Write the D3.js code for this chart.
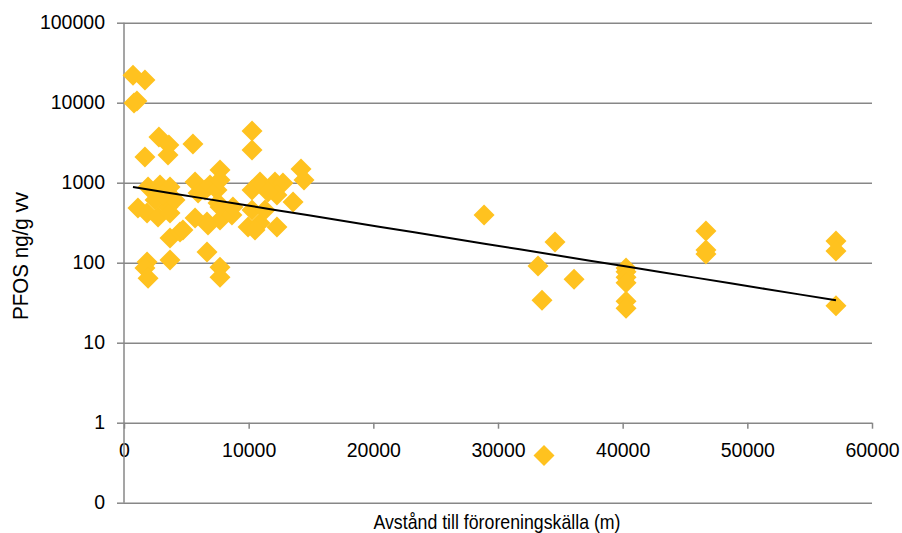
<!DOCTYPE html>
<html>
<head>
<meta charset="utf-8">
<script src="https://cdn.jsdelivr.net/npm/d3@7"></script>
<style>
  html, body { margin: 0; padding: 0; background: #fff; }
  svg { display: block; font-family: "Liberation Sans", Arial, sans-serif; }
</style>
</head>
<body>
<svg id="chart" width="902" height="533"></svg>
<script>
// Distance to the pollution source (m) for each sample
const distance = [
  720, 1680, 800, 1040, 2800, 3600, 3530, 1680, 5530, 10270,
  10270, 14200, 14440, 1930, 2890, 3690, 1120, 1850, 2730, 3530,
  3690, 4090, 5700, 5940, 6500, 6900, 7460, 7700, 7700, 5700,
  6660, 7700, 7540, 7700, 8660, 8740, 6740, 3690, 4490, 1850,
  1680, 1930, 3690, 6660, 7700, 7700, 10270, 10910, 12110, 12750,
  12270, 13560, 9950, 10910, 12270, 10270, 11310, 10510, 2490, 3130,
  4730, 11550,
  28880, 33210, 33530, 34570, 36100,
  40270, 40270, 40270, 40270, 40270, 40270,
  46680, 46680, 46680,
  57110, 57110, 57110,
  33690
];

// PFOS concentration (ng/g wet weight) for each sample
const pfos = [
  22000, 19200, 9900, 10500, 3730, 2960, 2220, 2100, 3050, 4430,
  2560, 1480, 1080, 884, 936, 884, 483, 418, 373, 497,
  418, 608, 1020, 743, 811, 936, 811, 1440, 1080, 362,
  323, 342, 557, 497, 395, 497, 296, 204, 242, 102,
  86, 64, 108, 136, 88, 66, 811, 1020, 1020, 991,
  702, 574, 279, 314, 279, 456, 456, 256, 608, 702,
  256, 765,
  395, 91, 34, 181, 62,
  86, 77, 66, 56, 33, 27,
  249, 144, 128,
  187, 140, 29,
  0.39
];

// Exponential trendline y = a * e^(b x)
const trendA = 920;
const trendB = -5.78e-5;

// Axis ticks and labels
const xTicks = [0, 10000, 20000, 30000, 40000, 50000, 60000];
const yTicks = [0.1, 1, 10, 100, 1000, 10000, 100000];
const yTickLabels = ["0", "1", "10", "100", "1000", "10000", "100000"];

const xTitle = "Avstånd till föroreningskälla (m)";
const yTitle = "PFOS ng/g vv";

const svg = d3.select("#chart");
const plotLeft = 124, plotRight = 872, plotTop = 22.7, plotBottom = 502.7;

const x = d3.scaleLinear().domain([0, 60000]).range([plotLeft, plotRight]);
const y = d3.scaleLog().domain([0.1, 100000]).range([plotBottom, plotTop]);

const gridColor = "#878787";
const tickFont = 19.5;

// Horizontal gridlines at each decade
svg.append("g")
  .attr("transform", `translate(${plotLeft},0)`)
  .call(d3.axisLeft(y).tickValues(yTicks).tickSize(-(plotRight - plotLeft)).tickFormat(""))
  .call(g => g.select(".domain").remove())
  .call(g => g.selectAll("line").attr("stroke", gridColor).attr("stroke-width", 1.5));

// Distance axis crossing the value axis at 1
const xAxis = svg.append("g")
  .attr("transform", `translate(0,${y(1)})`)
  .call(d3.axisBottom(x).tickValues(xTicks).tickSize(6).tickPadding(14).tickFormat(d3.format("d")));
xAxis.select(".domain").remove();
xAxis.selectAll(".tick line").attr("stroke", gridColor).attr("stroke-width", 1.5);
xAxis.selectAll("text").attr("font-size", tickFont).attr("fill", "#000")
  .attr("font-family", "Liberation Sans, Arial, sans-serif");

// Value axis with decade labels
const yAxis = svg.append("g")
  .attr("transform", `translate(${plotLeft},0)`)
  .call(d3.axisLeft(y).tickValues(yTicks).tickSize(7).tickPadding(12)
    .tickFormat((d, i) => yTickLabels[i]));
yAxis.select(".domain").attr("stroke", gridColor).attr("stroke-width", 1.5)
  .attr("d", `M0,${plotTop}V${plotBottom}`);
yAxis.selectAll(".tick line").attr("stroke", gridColor).attr("stroke-width", 1.5);
yAxis.selectAll("text").attr("font-size", tickFont).attr("fill", "#000")
  .attr("font-family", "Liberation Sans, Arial, sans-serif");

// Data points as diamonds
const points = distance.map((d, i) => ({ x: d, y: pfos[i] }));
svg.append("g")
  .selectAll("path")
  .data(points)
  .join("path")
  .attr("transform", d => `translate(${x(d.x)},${y(d.y)})`)
  .attr("d", "M0,-10.5L10.5,0L0,10.5L-10.5,0Z")
  .attr("fill", "#ffc21f");

// Trendline across the data range
const [xMin, xMax] = d3.extent(distance);
const trend = d3.range(0, 21).map(k => {
  const xv = xMin + (xMax - xMin) * k / 20;
  return { x: xv, y: trendA * Math.exp(trendB * xv) };
});
svg.append("path")
  .datum(trend)
  .attr("fill", "none")
  .attr("stroke", "#000")
  .attr("stroke-width", 2)
  .attr("d", d3.line().x(d => x(d.x)).y(d => y(d.y)));

// Axis titles
svg.append("text")
  .attr("x", 497).attr("y", 529)
  .attr("text-anchor", "middle")
  .attr("font-size", 21)
  .attr("textLength", 247)
  .attr("lengthAdjust", "spacingAndGlyphs")
  .text(xTitle);

svg.append("text")
  .attr("transform", "translate(28,256) rotate(-90)")
  .attr("text-anchor", "middle")
  .attr("font-size", 22.5)
  .attr("textLength", 128)
  .attr("lengthAdjust", "spacingAndGlyphs")
  .text(yTitle);
</script>
</body>
</html>
